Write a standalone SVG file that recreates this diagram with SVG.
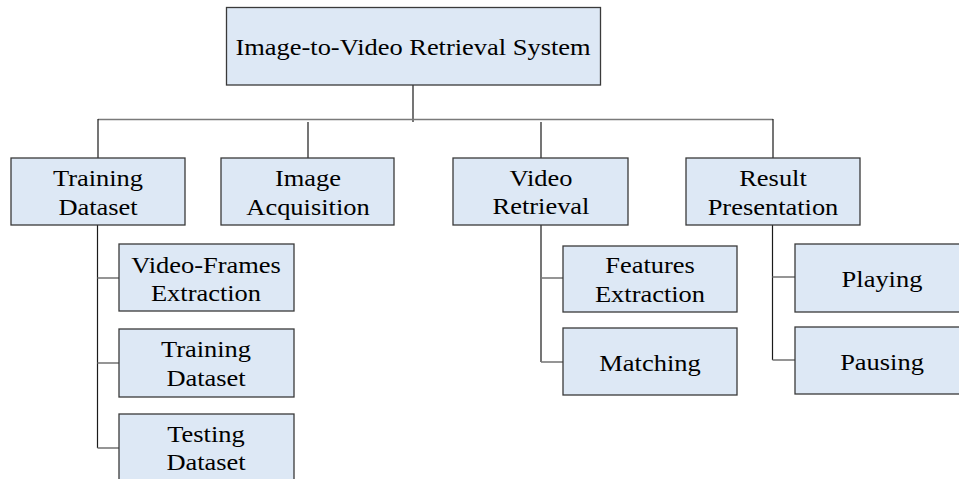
<svg xmlns="http://www.w3.org/2000/svg" width="959" height="479" viewBox="0 0 959 479">
  <style>
    .box { fill: #dde8f5; stroke: #3a3a3a; stroke-width: 1.3; }
    .lbl { font-family: "Liberation Serif", "Times New Roman", serif; font-size: 23px; fill: #000; text-anchor: middle; }
    .v { stroke: #1a1a1a; stroke-width: 1.2; fill: none; }
    .h { stroke: #7a7a7a; stroke-width: 1.6; fill: none; }
  </style>
  <rect width="959" height="479" fill="#ffffff"/>

  <!-- connectors: trunk, branch drops and child ticks -->
  <g id="connectors">
    <line class="v" x1="413" y1="85" x2="413" y2="122"/>
    <line class="h" x1="98" y1="119.5" x2="773" y2="119.5"/>
    <line class="v" x1="98" y1="119" x2="98" y2="158"/>
    <line class="v" x1="308" y1="122" x2="308" y2="158"/>
    <line class="v" x1="541" y1="122" x2="541" y2="158"/>
    <line class="v" x1="773" y1="119" x2="773" y2="158"/>

    <line class="v" x1="97.5" y1="225" x2="97.5" y2="448"/>
    <line class="h" x1="97.5" y1="278" x2="119" y2="278"/>
    <line class="h" x1="97.5" y1="363" x2="119" y2="363"/>
    <line class="h" x1="97.5" y1="448" x2="119" y2="448"/>

    <line class="v" x1="541" y1="225" x2="541" y2="362"/>
    <line class="h" x1="541" y1="278" x2="563" y2="278"/>
    <line class="h" x1="541" y1="362" x2="563" y2="362"/>

    <line class="v" x1="772.5" y1="225" x2="772.5" y2="360"/>
    <line class="h" x1="772.5" y1="277" x2="795" y2="277"/>
    <line class="h" x1="772.5" y1="360" x2="795" y2="360"/>
  </g>

  <!-- labels use a slightly widened serif (matrix x-scale 1.15) -->
  <g id="root">
    <rect class="box" x="226.5" y="7.5" width="374" height="77.5"/>
    <text class="lbl" transform="matrix(1.15 0 0 1 413 54.5)">Image-to-Video Retrieval System</text>
  </g>

  <g id="training-dataset">
    <rect class="box" x="11" y="158" width="174" height="67"/>
    <text class="lbl" transform="matrix(1.15 0 0 1 98 186)">Training</text>
    <text class="lbl" transform="matrix(1.15 0 0 1 98 214.5)">Dataset</text>
  </g>

  <g id="image-acquisition">
    <rect class="box" x="221" y="158" width="173" height="67"/>
    <text class="lbl" transform="matrix(1.15 0 0 1 308 186)">Image</text>
    <text class="lbl" transform="matrix(1.15 0 0 1 308 214.5)">Acquisition</text>
  </g>

  <g id="video-retrieval">
    <rect class="box" x="453" y="158" width="175" height="67"/>
    <text class="lbl" transform="matrix(1.15 0 0 1 541 185.5)">Video</text>
    <text class="lbl" transform="matrix(1.15 0 0 1 541 214)">Retrieval</text>
  </g>

  <g id="result-presentation">
    <rect class="box" x="686" y="158" width="174" height="67"/>
    <text class="lbl" transform="matrix(1.15 0 0 1 773 186)">Result</text>
    <text class="lbl" transform="matrix(1.15 0 0 1 773 215)">Presentation</text>
  </g>

  <g id="video-frames-extraction">
    <rect class="box" x="119" y="244" width="175" height="67"/>
    <text class="lbl" transform="matrix(1.15 0 0 1 206 272.5)">Video-Frames</text>
    <text class="lbl" transform="matrix(1.15 0 0 1 206 301)">Extraction</text>
  </g>

  <g id="training-dataset-sub">
    <rect class="box" x="119" y="329" width="175" height="68"/>
    <text class="lbl" transform="matrix(1.15 0 0 1 206 356.5)">Training</text>
    <text class="lbl" transform="matrix(1.15 0 0 1 206 385.5)">Dataset</text>
  </g>

  <g id="testing-dataset">
    <rect class="box" x="119" y="414" width="175" height="70"/>
    <text class="lbl" transform="matrix(1.15 0 0 1 206 441.5)">Testing</text>
    <text class="lbl" transform="matrix(1.15 0 0 1 206 470)">Dataset</text>
  </g>

  <g id="features-extraction">
    <rect class="box" x="563" y="246" width="174" height="66"/>
    <text class="lbl" transform="matrix(1.15 0 0 1 650 273)">Features</text>
    <text class="lbl" transform="matrix(1.15 0 0 1 650 302)">Extraction</text>
  </g>

  <g id="matching">
    <rect class="box" x="563" y="328" width="174" height="67"/>
    <text class="lbl" transform="matrix(1.15 0 0 1 650 370.5)">Matching</text>
  </g>

  <g id="playing">
    <rect class="box" x="795" y="244" width="170" height="68"/>
    <text class="lbl" transform="matrix(1.15 0 0 1 882 286.5)">Playing</text>
  </g>

  <g id="pausing">
    <rect class="box" x="795" y="327" width="170" height="67"/>
    <text class="lbl" transform="matrix(1.15 0 0 1 882 370)">Pausing</text>
  </g>
</svg>
